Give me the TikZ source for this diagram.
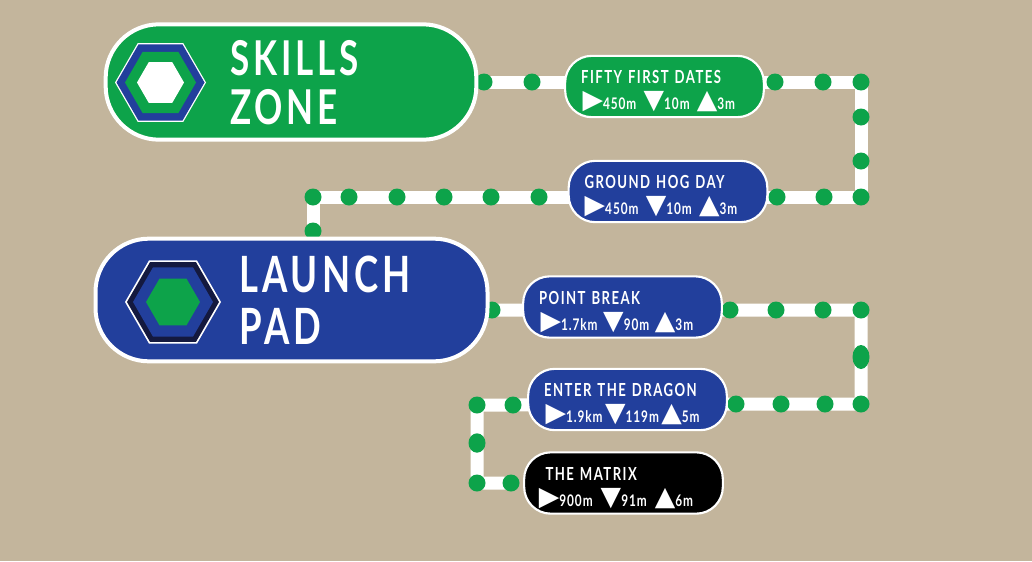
\documentclass[tikz,border=0pt]{standalone}
\usepackage{fontspec}
\setmainfont{Lato}
\newfontfamily\trailfont[FakeStretch=0.73,LetterSpace=8,UprightFont={* Bold}]{Lato}
\newfontfamily\statfont[FakeStretch=0.74,LetterSpace=6,UprightFont={* Bold}]{Lato}
\newfontfamily\symfont{DejaVu Sans}
\usetikzlibrary{shapes.geometric,backgrounds}
\definecolor{sand}{HTML}{C3B59C}
\definecolor{trailgreen}{HTML}{0DA34A}
\definecolor{trailblue}{HTML}{223F9C}
\definecolor{trailnavy}{HTML}{14193F}
\newcommand{\trailstats}[4][0.45em]{{\hspace*{1pt}\statfont\fontsize{12}{14}\selectfont
    {\symfont\fontsize{20}{14}\selectfont\raisebox{0.5pt}{▶}}#2\hspace{#1}%
    {\symfont\fontsize{20}{14}\selectfont\raisebox{0.5pt}{▼}}#3\hspace{#1}%
    {\symfont\fontsize{20}{14}\selectfont\raisebox{0.5pt}{▲}}#4}}

\begin{document}
\begin{tikzpicture}[
        x=0.75pt, y=-0.75pt,
        zone/.style={
            rectangle,
            draw=white,
            line width=3pt,
            rounded corners=40pt,
            fill=#1,
            minimum width=278pt,
            inner sep=0pt
        },
        zonetext/.style={
            anchor=north west,
            inner sep=0pt,
            align=left,
            text=white,
            font=\trailfont\fontsize{36}{37}\selectfont
        },
        film/.style={
            rectangle,
            draw=white,
            line width=1.6pt,
            rounded corners=20pt,
            fill=#1,
            minimum width=149pt,
            minimum height=46pt,
            text width=125pt,
            inner xsep=0pt,
            inner ysep=0pt,
            align=left,
            text=white,
            font=\trailfont\fontsize{13.5}{19.5}\selectfont,
            execute at begin node={\rule{0pt}{17pt}}
        },
        dot/.style={circle, fill=trailgreen, minimum size=12.75pt, inner sep=0pt},
        dotlong/.style={ellipse, fill=trailgreen, minimum width=12.75pt, minimum height=#1, inner sep=0pt},
        hexa/.style={
            regular polygon,
            regular polygon sides=6,
            inner sep=0pt,
            minimum size=#1
        },
        trail/.style={draw=white, line width=9.75pt, line join=round}
    ]
    \useasboundingbox (0,0) rectangle (1032,561);

    % trail stops
    \node[dot] (a1) at (484,82) {};
    \node[dot] (a2) at (532,82) {};
    \node[dot] (a3) at (775,82) {};
    \node[dot] (a4) at (823,82) {};
    \node[dot] (a5) at (861,82) {};
    \node[dot] (a6) at (861,117) {};
    \node[dot] (a7) at (861,161) {};
    \node[dot] (a8) at (861,197) {};
    \node[dot] (a9) at (824,197) {};
    \node[dot] (a10) at (777,197) {};
    \node[dot] (a11) at (539,197) {};
    \node[dot] (a12) at (491,197) {};
    \node[dot] (a13) at (444,197) {};
    \node[dot] (a14) at (397,197) {};
    \node[dot] (a15) at (349,197) {};
    \node[dot] (a16) at (313,197) {};
    \node[dot] (a17) at (313,231) {};

    \node[dot] (b1) at (492,310) {};
    \node[dot] (b2) at (730,310) {};
    \node[dot] (b3) at (776,310) {};
    \node[dot] (b4) at (823,310) {};
    \node[dot] (b5) at (861,310) {};
    \node[dotlong=18pt] (b6) at (861,357) {};
    \node[dot] (b7) at (861,404) {};
    \node[dot] (b8) at (825,404) {};
    \node[dot] (b9) at (781,404) {};
    \node[dot] (b10) at (736,404) {};
    \node[dot] (b11) at (513,405) {};
    \node[dot] (b12) at (477,405) {};
    \node[dotlong=14.5pt] (b13) at (477,443) {};
    \node[dot] (b14) at (477,483) {};
    \node[dot] (b15) at (511,483) {};

    % big signs
    \node[zone=trailgreen, minimum height=86.5pt] (skills) at (291,82) {};
    \node[hexa=68.25pt, fill=white] (skillsa) at (160.5,82.5) {};
    \node[hexa=66pt, fill=trailblue] (skillsb) at (160.5,82.5) {};
    \node[hexa=53.25pt, fill=trailgreen] (skillsc) at (160.5,82.5) {};
    \node[hexa=35.25pt, fill=white] (skillsd) at (160.5,82.5) {};
    \node[zonetext] (skillstext) at (230,40) {SKILLS\\ZONE};

    \node[zone=trailblue, minimum width=294pt, minimum height=92pt] (launch) at (291.5,300) {};
    \node[hexa=72pt, fill=white] (launcha) at (173,302) {};
    \node[hexa=69pt, fill=trailnavy] (launchb) at (173,302) {};
    \node[hexa=60pt, fill=trailblue] (launchc) at (173,302) {};
    \node[hexa=40.5pt, fill=trailgreen] (launchd) at (173,302) {};
    \node[zonetext, font=\trailfont\fontsize{37.5}{39}\selectfont] (launchtext) at (239,255.5) {LAUNCH\\PAD};

    % films
    \node[film=trailgreen] (fifty) at (664.5,86.5) {FIFTY FIRST DATES\\\trailstats{450m}{10m}{3m}};
    \node[film=trailblue] (ground) at (668,191.5) {GROUND HOG DAY\\\hspace*{-1pt}\trailstats{450m}{10m}{3m}};
    \node[film=trailblue] (point) at (622.5,307) {POINT BREAK\\\trailstats[0.35em]{1.7km}{90m}{3m}};
    \node[film=trailblue] (dragon) at (627.5,399.5) {ENTER THE DRAGON\\\trailstats[0.15em]{1.9km}{119m}{5m}};
    \node[film=black] (matrix) at (623.5,483) {\hspace*{4pt}THE MATRIX\\\hspace*{-2pt}\trailstats[0.5em]{900m}{91m}{6m}};

    \begin{scope}[on background layer]
        \fill[sand] (0,0) rectangle (1032,561);
        \draw[trail] (a1.center) -- (a2.center) -- (a3.center) -- (a4.center) -- (a5.center) -- (a6.center) -- (a7.center) -- (a8.center) -- (a9.center) -- (a10.center) -- (a11.center) -- (a12.center) -- (a13.center) -- (a14.center) -- (a15.center) -- (a16.center) -- (a17.center);
        \draw[trail] (b1.center) -- (b2.center) -- (b3.center) -- (b4.center) -- (b5.center) -- (b6.center) -- (b7.center) -- (b8.center) -- (b9.center) -- (b10.center) -- (b11.center) -- (b12.center) -- (b13.center) -- (b14.center) -- (b15.center);
    \end{scope}

\end{tikzpicture}
\end{document}
